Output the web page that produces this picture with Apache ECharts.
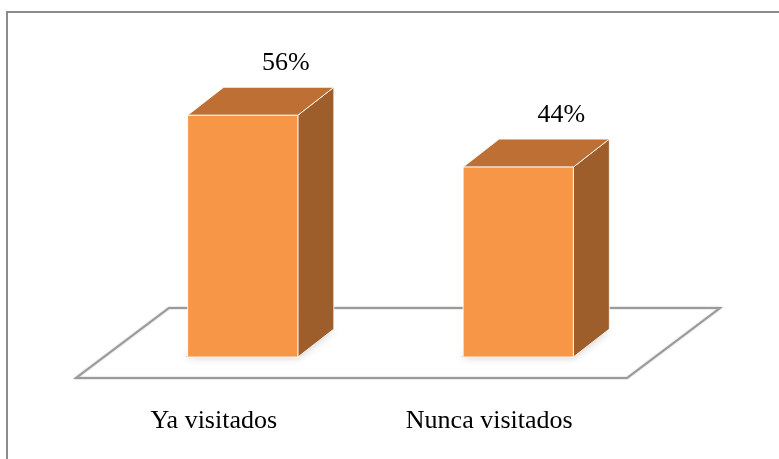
<!DOCTYPE html>
<html>
<head>
<meta charset="utf-8">
<script src="https://cdn.jsdelivr.net/npm/echarts@6/dist/echarts.min.js"></script>
<style>
  html, body { margin: 0; padding: 0; background: #fff; }
  #chart { width: 779px; height: 459px; }
</style>
</head>
<body>
<div id="chart"></div>
<script>
const categories = ['Ya visitados', 'Nunca visitados']
const values = [56, 44]

const FRONT = '#F79646'
const TOP = '#BE7034'
const SIDE = '#9E5E2C'
const SERIF = '"Liberation Serif", "DejaVu Serif", serif'

// bar depth (3d offset)
const DX = 36
const DY = -28

function renderBar(params, api) {
  const x = api.value(0)
  const v = api.value(1)
  const top = api.coord([x, v])
  const base = api.coord([x, 0])
  const w = api.size([1, 0])[0] * 0.4
  const l = top[0] - w / 2
  const r = top[0] + w / 2
  const t = top[1]
  const b = base[1]
  const edge = { stroke: 'rgba(255,255,255,0.85)', lineWidth: 1 }

  return {
    type: 'group',
    children: [
      {
        // soft shadow under the block
        type: 'polygon',
        shape: { points: [[l - 2, b], [r, b], [r + DX, b + DY], [l + DX, b + DY]] },
        style: { fill: 'rgba(120,120,120,0.5)', shadowBlur: 8, shadowColor: 'rgba(0,0,0,0.45)' },
        z2: 0
      },
      {
        type: 'polygon',
        shape: { points: [[r, t], [r + DX, t + DY], [r + DX, b + DY], [r, b]] },
        style: Object.assign({ fill: SIDE }, edge),
        z2: 1
      },
      {
        type: 'polygon',
        shape: { points: [[l, t], [l + DX, t + DY], [r + DX, t + DY], [r, t]] },
        style: Object.assign({ fill: TOP }, edge),
        z2: 1
      },
      {
        type: 'rect',
        shape: { x: l, y: t, width: r - l, height: b - t },
        style: Object.assign({ fill: FRONT }, edge),
        z2: 2
      },
      {
        type: 'text',
        style: {
          text: v + '%',
          x: top[0] + 43,
          y: t - 52,
          align: 'center',
          verticalAlign: 'middle',
          font: '26px ' + SERIF,
          fill: '#000'
        },
        z2: 3
      }
    ]
  }
}

function renderFloor(params, api) {
  const cs = params.coordSys
  const y0 = api.coord([0, 0])[1]
  const left = cs.x
  const right = cs.x + cs.width
  return {
    type: 'polygon',
    shape: {
      points: [
        [left - 29, y0 + 21],
        [right - 29, y0 + 21],
        [right + 64, y0 - 49],
        [left + 64, y0 - 49]
      ]
    },
    style: {
      fill: '#fff',
      stroke: '#9a9a9a',
      lineWidth: 2,
      shadowBlur: 2,
      shadowColor: 'rgba(0,0,0,0.25)'
    }
  }
}

const chart = echarts.init(document.getElementById('chart'), null, { renderer: 'canvas' })

chart.setOption({
  animation: false,
  backgroundColor: '#fff',
  grid: { left: 105, right: 123, top: 98, bottom: 102 },
  graphic: [
    {
      type: 'rect',
      shape: { x: 7, y: 12, width: 820, height: 500 },
      style: { fill: 'none', stroke: '#8c8c8c', lineWidth: 2 },
      silent: true
    }
  ],
  xAxis: {
    type: 'category',
    data: categories,
    axisLine: { show: false },
    axisTick: { show: false },
    axisLabel: {
      margin: 51,
      padding: [0, 58, 0, 0],
      fontFamily: SERIF,
      fontSize: 26,
      color: '#000'
    }
  },
  yAxis: {
    type: 'value',
    min: 0,
    max: 60,
    show: false,
    splitLine: { show: false }
  },
  series: [
    {
      type: 'custom',
      renderItem: renderFloor,
      data: [[0, 0]],
      z: 1,
      silent: true
    },
    {
      type: 'custom',
      renderItem: renderBar,
      data: values.map((v, i) => [i, v]),
      encode: { x: 0, y: 1 },
      z: 2
    }
  ]
})
</script>
</body>
</html>
